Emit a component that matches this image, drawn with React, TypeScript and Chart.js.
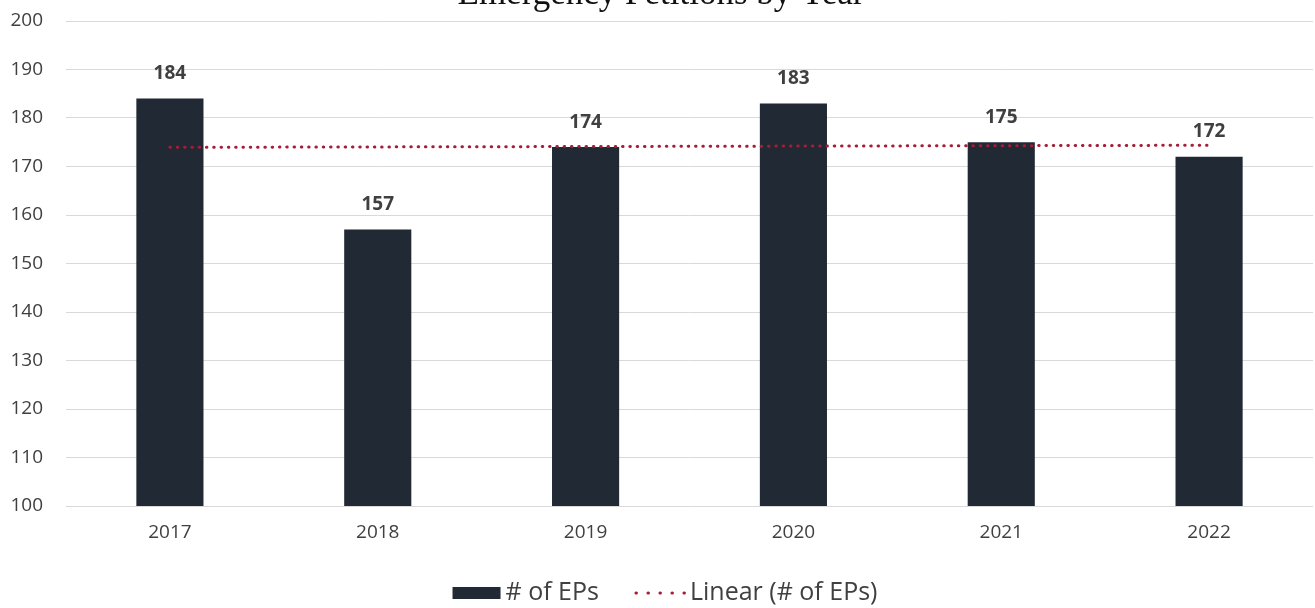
import React, { useEffect, useRef } from 'react';
import { Chart, registerables } from 'chart.js';

Chart.register(...registerables);

// ---- data ----
const chartTitle = 'Emergency Petitions by Year';
const years = ['2017', '2018', '2019', '2020', '2021', '2022'];
const petitions = [184, 157, 174, 183, 175, 172];
const trendValues = [173.95, 174.04, 174.12, 174.21, 174.29, 174.38];
const barLabel = '# of EPs';
const trendLabel = 'Linear (# of EPs)';
const yMin = 100;
const yMax = 200;
const yStep = 10;

// ---- styles ----
const BAR = '#212934';
const TREND = '#a51d36';
const TEXT = '#404040';
const FONT = "'Open Sans', sans-serif";

const titlePlugin = {
  id: 'cutTitle',
  afterDraw(chart: any) {
    const ctx = chart.ctx;
    ctx.save();
    ctx.font = "35px 'Liberation Serif', serif";
    ctx.fillStyle = '#111';
    ctx.textAlign = 'center';
    ctx.textBaseline = 'alphabetic';
    ctx.fillText(chartTitle, 661, 4);
    ctx.restore();
  },
};

const valueLabelPlugin = {
  id: 'valueLabels',
  afterDatasetsDraw(chart: any) {
    const meta = chart.getDatasetMeta(1);
    const ctx = chart.ctx;
    ctx.save();
    ctx.font = `bold 19px ${FONT}`;
    ctx.fillStyle = TEXT;
    ctx.textAlign = 'center';
    ctx.textBaseline = 'middle';
    meta.data.forEach((el: any, i: number) => {
      ctx.fillText(String(petitions[i]), el.x, el.y - 25);
    });
    ctx.restore();
  },
};

const legendPlugin = {
  id: 'customLegend',
  afterDraw(chart: any) {
    const ctx = chart.ctx;
    ctx.save();
    ctx.font = `25px ${FONT}`;
    const y = 593;
    const boxW = 48;
    const boxH = 12;
    const gap = 5;
    const itemGap = 34;
    const lineW = 54;
    const w1 = ctx.measureText(barLabel).width;
    const w2 = ctx.measureText(trendLabel).width;
    const total = boxW + gap + w1 + itemGap + lineW + 3 + w2;
    let x = 665 - total / 2;
    ctx.fillStyle = BAR;
    ctx.fillRect(x, y - boxH / 2, boxW, boxH);
    x += boxW + gap;
    ctx.fillStyle = TEXT;
    ctx.textAlign = 'left';
    ctx.textBaseline = 'middle';
    ctx.fillText(barLabel, x, y);
    x += w1 + itemGap;
    ctx.strokeStyle = TREND;
    ctx.lineWidth = 3;
    ctx.lineCap = 'round';
    ctx.setLineDash([0.5, 11.5]);
    ctx.beginPath();
    ctx.moveTo(x + 3, y);
    ctx.lineTo(x + lineW, y);
    ctx.stroke();
    ctx.setLineDash([]);
    x += lineW + 3;
    ctx.fillText(trendLabel, x, y);
    ctx.restore();
  },
};

export default function App() {
  const ref = useRef<HTMLCanvasElement>(null);

  useEffect(() => {
    if (!ref.current) return;
    const chart = new Chart(ref.current, {
      type: 'bar',
      data: {
        labels: years,
        datasets: [
          {
            type: 'line',
            label: trendLabel,
            data: trendValues,
            borderColor: TREND,
            borderWidth: 3,
            borderDash: [0.5, 6.8],
            borderCapStyle: 'round',
            pointRadius: 0,
            fill: false,
            order: 0,
          } as any,
          {
            type: 'bar',
            label: barLabel,
            data: petitions,
            backgroundColor: BAR,
            barPercentage: 1,
            categoryPercentage: 0.323,
            order: 1,
          },
        ],
      },
      options: {
        responsive: false,
        animation: false,
        devicePixelRatio: 1,
        layout: { padding: { top: 21, right: 2, left: 0, bottom: 0 } },
        plugins: {
          legend: { display: false },
          title: { display: false },
          tooltip: { enabled: false },
        },
        scales: {
          x: {
            grid: { display: false, drawTicks: false },
            border: { display: false },
            ticks: { color: TEXT, font: { family: FONT, size: 19 }, padding: 15 },
            afterFit(scale: any) {
              scale.height = 102;
            },
          },
          y: {
            min: yMin,
            max: yMax,
            grid: { color: '#d9d9d9', lineWidth: 1, drawTicks: false },
            border: { display: false },
            ticks: { stepSize: yStep, color: TEXT, font: { family: FONT, size: 19 }, padding: 23 },
            afterFit(scale: any) {
              scale.width = 66;
              scale.paddingTop = 0;
              scale.paddingBottom = 0;
            },
          },
        },
      },
      plugins: [titlePlugin, valueLabelPlugin, legendPlugin],
    });
    return () => chart.destroy();
  }, []);

  return (
    <div style={{ position: 'fixed', left: 0, top: 0, width: 1315, height: 608, background: '#fff' }}>
      <canvas ref={ref} width={1315} height={608} />
    </div>
  );
}
